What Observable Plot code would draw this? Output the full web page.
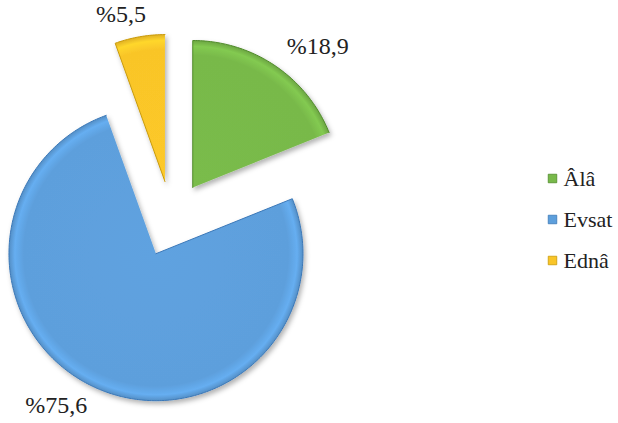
<!DOCTYPE html>
<html><head><meta charset="utf-8">
<script src="https://cdn.jsdelivr.net/npm/d3@7"></script>
<script src="https://cdn.jsdelivr.net/npm/@observablehq/plot@0.6"></script>
<style>body{margin:0;background:#fff}</style></head>
<body><div id="chart"></div>
<script>
const categories = ["Âlâ", "Evsat", "Ednâ"];
const percents = [18.9, 75.6, 5.5];
const labels = ["%18,9", "%75,6", "%5,5"];
const colors = ["#78b94a", "#5d9fdc", "#f9c528"];
const edgeColors = ["#4f8a2a", "#3b78b8", "#c99a08"];

const W = 618, H = 423;
const cx = 171, cy = 218.5, R = 147, explode = 38;
const arcs = d3.pie().sort(null).value(d => d)(percents);
const pts = [], labelData = [], legendData = [];
arcs.forEach((a, i) => {
  const mid = (a.startAngle + a.endAngle) / 2;
  const ax = cx + explode * Math.sin(mid), ay = cy - explode * Math.cos(mid);
  pts.push({k: i, x: ax, y: ay});
  const n = Math.max(2, Math.ceil((a.endAngle - a.startAngle) / (Math.PI / 180)));
  for (let j = 0; j <= n; j++) {
    const t = a.startAngle + (a.endAngle - a.startAngle) * j / n;
    pts.push({k: i, x: ax + R * Math.sin(t), y: ay - R * Math.cos(t)});
  }
  const lr = R + 21;
  const s = Math.sin(mid);
  labelData.push({x: ax + lr * s + (Math.abs(s) < 0.3 ? 10 : 0), y: Math.min(H - 14, ay - lr * Math.cos(mid) - 2), text: labels[i],
    anchor: s >= 0 ? "start" : "end"});
  legendData.push({i, x: 552, y: 178 + i * 41, text: categories[i]});
});

const marks = [];
categories.forEach((c, i) => {
  marks.push(Plot.line(pts.filter(p => p.k === i), {x: "x", y: "y", fill: `url(#grad${i})`,
    stroke: edgeColors[i], strokeWidth: 1, curve: "linear"}));
});
marks.push(Plot.text(labelData.filter(d => d.anchor === "start"), {x: "x", y: "y", text: "text", textAnchor: "start",
  fontSize: 24, fill: "#222", fontFamily: "Liberation Serif"}));
marks.push(Plot.text(labelData.filter(d => d.anchor === "end"), {x: "x", y: "y", text: "text", textAnchor: "end",
  fontSize: 24, fill: "#222", fontFamily: "Liberation Serif"}));
marks.push(Plot.dot(legendData, {x: "x", y: "y", symbol: "square", r: 4.8, fill: d => colors[d.i], stroke: d => edgeColors[d.i], strokeWidth: 0.8}));
marks.push(Plot.text(legendData, {x: d => d.x + 11, y: "y", text: "text", textAnchor: "start",
  fontSize: 22, fill: "#222", fontFamily: "Liberation Serif"}));

const chart = Plot.plot({
  width: W, height: H, margin: 0,
  x: {domain: [0, W], range: [0, W], axis: null},
  y: {domain: [0, H], range: [0, H], axis: null},
  style: {background: "#fff"},
  marks
});
const svg = d3.select(chart);
const defs = svg.insert("defs", ":first-child");
const filt = defs.append("filter").attr("id", "shadow").attr("x", "-20%").attr("y", "-20%").attr("width", "140%").attr("height", "140%");
filt.append("feDropShadow").attr("dx", 2).attr("dy", 3).attr("stdDeviation", 2.5).attr("flood-color", "#000").attr("flood-opacity", 0.3);
arcs.forEach((a, i) => {
  const mid = (a.startAngle + a.endAngle) / 2;
  const g = defs.append("radialGradient").attr("id", `grad${i}`).attr("gradientUnits", "userSpaceOnUse")
    .attr("cx", cx + explode * Math.sin(mid)).attr("cy", cy - explode * Math.cos(mid)).attr("r", R);
  const base = d3.color(colors[i]);
  g.append("stop").attr("offset", "0%").attr("stop-color", base.brighter(0.05));
  g.append("stop").attr("offset", "90%").attr("stop-color", base);
  g.append("stop").attr("offset", "96%").attr("stop-color", base.brighter(0.25));
  g.append("stop").attr("offset", "100%").attr("stop-color", base.darker(0.3));
});
svg.selectAll("g[aria-label=line]").attr("filter", "url(#shadow)");
document.getElementById("chart").appendChild(chart);
</script>
</body></html>
